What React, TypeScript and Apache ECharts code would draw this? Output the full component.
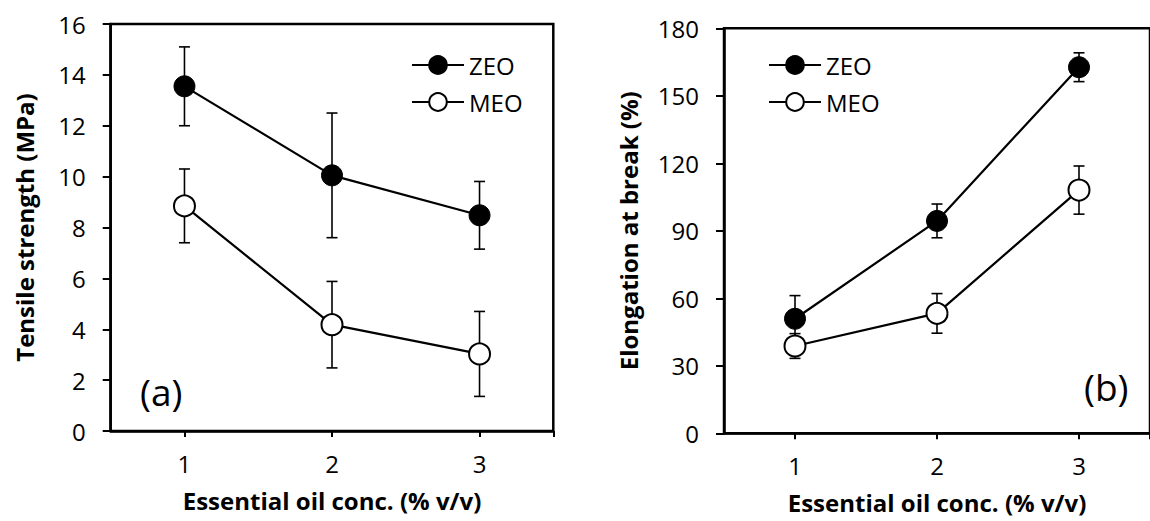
import React, { useEffect, useRef } from "react";
import * as echarts from "echarts";

const conc = [1, 2, 3];
const xTickValues = [1, 2, 3, 3.5];
const xLabelValues = [1, 2, 3];

const tensileZEO = [13.55, 10.05, 8.48];
const tensileZEOErr = [1.55, 2.45, 1.33];
const tensileMEO = [8.85, 4.18, 3.03];
const tensileMEOErr = [1.45, 1.7, 1.67];

const elongZEO = [50.9, 94.4, 162.7];
const elongZEOErr = [10.3, 7.5, 6.4];
const elongMEO = [38.8, 53.3, 108.1];
const elongMEOErr = [5.5, 8.8, 10.7];

const FONT = "'Open Sans', Lato, sans-serif";
const FS = 24;

function pairs(ys: number[]) {
  return conc.map((x, i) => [x, ys[i]]);
}
function errs(ys: number[], es: number[]) {
  return conc.map((x, i) => [x, ys[i] - es[i], ys[i] + es[i]]);
}

function errRender(params: any, api: any) {
  const x = api.value(0);
  const lo = api.value(1);
  const hi = api.value(2);
  const t = api.coord([x, hi]);
  const b = api.coord([x, lo]);
  const w = 5.5;
  const st = { stroke: "#000", lineWidth: 1.6 };
  return {
    type: "group",
    children: [
      { type: "line", shape: { x1: t[0], y1: t[1], x2: b[0], y2: b[1] }, style: st },
      { type: "line", shape: { x1: t[0] - w, y1: t[1], x2: t[0] + w, y2: t[1] }, style: st },
      { type: "line", shape: { x1: b[0] - w, y1: b[1], x2: b[0] + w, y2: b[1] }, style: st },
    ],
  };
}

function lineSeries(name: string, data: number[], idx: number, filled: boolean) {
  return {
    type: "line",
    name,
    xAxisIndex: idx,
    yAxisIndex: idx,
    data: pairs(data),
    symbol: "circle",
    symbolSize: 21,
    lineStyle: { color: "#000", width: 2.2 },
    itemStyle: {
      color: filled ? "#000" : "#fff",
      borderColor: "#000",
      borderWidth: filled ? 1 : 2,
    },
    z: 3,
  };
}

function errSeries(data: number[], e: number[], idx: number) {
  return {
    type: "custom",
    xAxisIndex: idx,
    yAxisIndex: idx,
    data: errs(data, e),
    encode: { x: 0, y: [1, 2] },
    renderItem: errRender,
    z: 1,
    silent: true,
  };
}

function xAxis(idx: number) {
  return {
    type: "value",
    gridIndex: idx,
    min: 0.5,
    max: 3.5,
    name: "Essential oil conc. (% v/v)",
    nameLocation: "middle",
    nameGap: 57,
    nameTextStyle: { color: "#000", fontSize: FS, fontWeight: "bold", fontFamily: FONT },
    axisLine: { show: true, onZero: false, lineStyle: { color: "#000", width: 2.5 } },
    axisTick: { show: true, length: 6, customValues: xTickValues, lineStyle: { color: "#000", width: 2 } },
    axisLabel: { customValues: xLabelValues, color: "#000", fontSize: FS, fontFamily: FONT, margin: 20 },
    splitLine: { show: false },
  };
}

function yAxis(idx: number, max: number, interval: number, name: string, gap: number) {
  return {
    type: "value",
    gridIndex: idx,
    min: 0,
    max,
    interval,
    name,
    nameLocation: "middle",
    nameGap: gap,
    nameTextStyle: { color: "#000", fontSize: FS, fontWeight: "bold", fontFamily: FONT },
    axisLine: { show: true, lineStyle: { color: "#000", width: 2.5 } },
    axisTick: { show: true, length: 8, lineStyle: { color: "#000", width: 2 } },
    axisLabel: { color: "#000", fontSize: FS, fontFamily: FONT, margin: 25 },
    splitLine: { show: false },
  };
}

function legend(left: number) {
  return {
    orient: "vertical",
    left,
    top: 48,
    padding: 5,
    itemWidth: 52,
    itemHeight: 22,
    itemGap: 13,
    itemTextGap: 5,
    selectedMode: false,
    data: ["ZEO", "MEO"],
    textStyle: { color: "#000", fontSize: FS, fontFamily: FONT },
  };
}

export default function App() {
  const ref = useRef<HTMLDivElement>(null);
  useEffect(() => {
    document.body.style.margin = "0";
    const chart = echarts.init(ref.current!, null, { renderer: "svg" });
    chart.setOption({
      animation: false,
      backgroundColor: "#fff",
      grid: [
        { left: 110.7, top: 24, width: 442.6, height: 407, show: true, borderColor: "#000", borderWidth: 2.5, backgroundColor: "transparent" },
        { left: 724, top: 28.3, width: 435.5, height: 405, show: true, borderColor: "#000", borderWidth: 2.5, backgroundColor: "transparent" },
      ],
      xAxis: [xAxis(0), xAxis(1)],
      yAxis: [
        yAxis(0, 16, 2, "Tensile strength (MPa)", 74),
        yAxis(1, 180, 30, "Elongation at break (%)", 84),
      ],
      legend: [legend(406), legend(763)],
      graphic: [
        { type: "text", left: 140, top: 373, style: { text: "(a)", fontSize: 37, fontFamily: FONT, fill: "#000" } },
        { type: "text", left: 1084, top: 368, style: { text: "(b)", fontSize: 37, fontFamily: FONT, fill: "#000" } },
      ],
      series: [
        errSeries(tensileZEO, tensileZEOErr, 0),
        errSeries(tensileMEO, tensileMEOErr, 0),
        lineSeries("ZEO", tensileZEO, 0, true),
        lineSeries("MEO", tensileMEO, 0, false),
        errSeries(elongZEO, elongZEOErr, 1),
        errSeries(elongMEO, elongMEOErr, 1),
        lineSeries("ZEO", elongZEO, 1, true),
        lineSeries("MEO", elongMEO, 1, false),
      ],
    });
    return () => chart.dispose();
  }, []);
  return <div ref={ref} style={{ width: 1150, height: 521 }} />;
}
